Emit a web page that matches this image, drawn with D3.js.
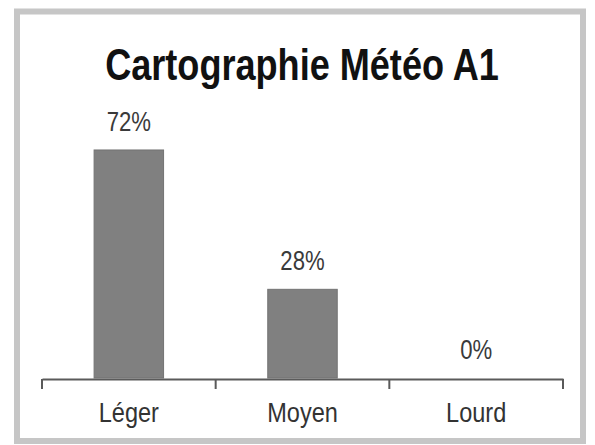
<!DOCTYPE html>
<html>
<head>
<meta charset="utf-8">
<script src="https://cdn.jsdelivr.net/npm/d3@7/dist/d3.min.js"></script>
<style>
  html, body { margin: 0; padding: 0; background: #ffffff; }
  svg { display: block; }
</style>
</head>
<body>
<svg id="chart" width="595" height="445"></svg>
<script>
const title = "Cartographie Météo A1";
const categories = ["Léger", "Moyen", "Lourd"];
const values = [72, 28, 0];
const valueLabels = ["72%", "28%", "0%"];

const W = 595, H = 445;
const svg = d3.select("#chart");
const fontFam = "'Liberation Sans Narrow', 'Arial Narrow', 'Liberation Sans', Arial, sans-serif";

// condense text horizontally (Arial Narrow look)
function condense(sel, k) {
  sel.each(function () {
    const w = this.getComputedTextLength();
    d3.select(this).attr("textLength", w * k).attr("lengthAdjust", "spacingAndGlyphs");
  });
}

svg.append("rect").attr("x", 0).attr("y", 0).attr("width", W).attr("height", H).attr("fill", "#fff");

// frame
svg.append("rect")
  .attr("x", 17).attr("y", 11.5)
  .attr("width", 566).attr("height", 429.5)
  .attr("fill", "none")
  .attr("stroke", "#c6c6c6")
  .attr("stroke-width", 6);

const x = d3.scaleBand().domain(categories).range([42, 563]).paddingInner(0).paddingOuter(0);
const y = d3.scaleLinear().domain([0, 100]).range([378, 61.3]);
const bw = x.bandwidth();
const barW = bw * 0.40;

// title
svg.append("text")
  .attr("x", 302).attr("y", 80)
  .attr("text-anchor", "middle")
  .attr("font-family", fontFam)
  .attr("font-weight", "bold")
  .attr("font-size", 44)
  .attr("fill", "#111")
  .text(title)
  .call(condense, 0.82);

// bars
const data = categories.map((c, i) => ({ c, v: values[i], l: valueLabels[i] }));
svg.append("g").selectAll("rect").data(data.filter(d => d.v > 0)).join("rect")
  .attr("x", d => x(d.c) + (bw - barW) / 2)
  .attr("y", d => y(d.v))
  .attr("width", barW)
  .attr("height", d => y(0) - y(d.v))
  .attr("fill", "#808080")
  .attr("stroke", "#737373")
  .attr("stroke-width", 1);

// value labels
svg.append("g").selectAll("text").data(data).join("text")
  .attr("x", d => x(d.c) + bw / 2)
  .attr("y", d => y(d.v) - 19)
  .attr("text-anchor", "middle")
  .attr("font-family", fontFam)
  .attr("font-size", 27)
  .attr("fill", "#3a3a3a")
  .text(d => d.l)
  .call(condense, 0.82);

// axis
const axisG = svg.append("g").attr("transform", "translate(0,379)");
axisG.call(d3.axisBottom(x).tickSize(0).tickPadding(0));
axisG.select(".domain").attr("stroke", "#5a5a5a").attr("stroke-width", 2);
axisG.selectAll(".tick text")
  .attr("y", 43).attr("dy", 0)
  .attr("font-family", fontFam)
  .attr("font-size", 28)
  .attr("fill", "#333")
  .call(condense, 0.84);

// boundary ticks
const bounds = categories.map(c => x(c)).concat([x(categories[categories.length - 1]) + bw]);
axisG.append("g").selectAll("line").data(bounds).join("line")
  .attr("x1", d => d).attr("x2", d => d)
  .attr("y1", 0).attr("y2", 10)
  .attr("stroke", "#5a5a5a")
  .attr("stroke-width", 2);
</script>
</body>
</html>
